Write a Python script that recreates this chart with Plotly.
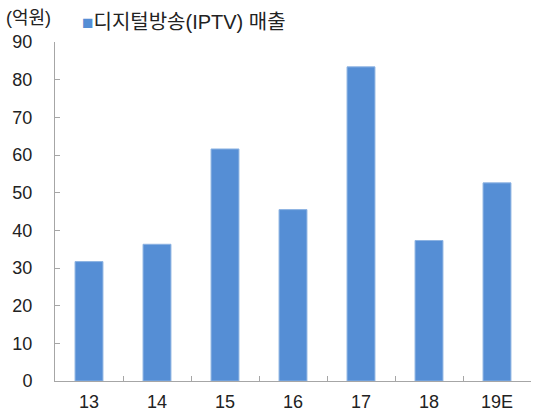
import plotly.graph_objects as go

# 연도별 디지털방송(IPTV) 매출 (억원)
years = ['13', '14', '15', '16', '17', '18', '19E']
sales = [31.7, 36.3, 61.6, 45.5, 83.4, 37.3, 52.6]
y_ticks = [0, 10, 20, 30, 40, 50, 60, 70, 80, 90]

font_family = 'Liberation Sans, Arial, Noto Sans CJK KR, sans-serif'
bar_color = '#558ED5'

trace = go.Bar(x=years, y=sales, name='디지털방송(IPTV) 매출',
               marker=dict(color=bar_color, line=dict(color='#8DB3E2', width=1)),
               width=0.41, showlegend=False)

layout = go.Layout(
    width=536, height=416,
    margin=dict(l=55, r=5, t=42, b=35),
    paper_bgcolor='white', plot_bgcolor='white',
    font=dict(family=font_family, size=18, color='#222222'),
    xaxis=dict(showline=True, linecolor='#a6a6a6', linewidth=1,
               ticks='inside', ticklen=5, tickcolor='#a6a6a6',
               tickson='boundaries', showgrid=False, automargin=False,
               ticklabelstandoff=4),
    yaxis=dict(range=[0, 90], tickvals=y_ticks, showline=True,
               linecolor='#a6a6a6', linewidth=1, ticks='inside',
               ticklen=5, tickcolor='#a6a6a6', showgrid=False,
               zeroline=False, automargin=False, ticklabelstandoff=18),
    annotations=[
        dict(text='(억원)', xref='paper', yref='paper',
             x=-0.107, y=1.072, xanchor='left', yanchor='middle',
             showarrow=False, font=dict(size=18)),
        dict(text='<span style="color:%s;font-size:19px">■</span>디지털방송(IPTV) 매출' % bar_color,
             xref='paper', yref='paper', x=0.052, y=1.058,
             xanchor='left', yanchor='middle', showarrow=False,
             font=dict(size=20)),
    ],
)

fig = go.Figure(data=[trace], layout=layout)
fig.write_html('out.html', config={'displayModeBar': False},
               post_script="document.body.style.margin='0';")
